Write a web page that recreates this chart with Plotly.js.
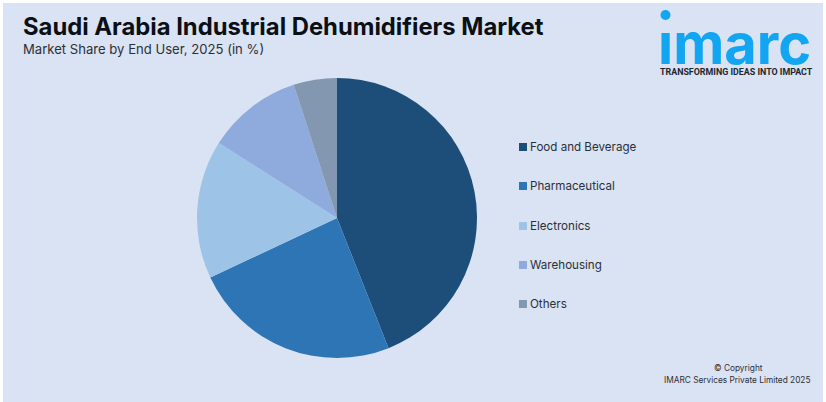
<!DOCTYPE html>
<html><head><meta charset="utf-8">
<script src="https://cdn.plot.ly/plotly-3.0.1.min.js"></script>
<style>html,body{margin:0;padding:0;background:#fff}#c{width:826px;height:402px}</style>
</head><body><div id="c"></div>
<script>
const categories=["Food and Beverage","Pharmaceutical","Electronics","Warehousing","Others"];
const shares=[44,24,16,11,5];
const colors=["#1d4e79","#2e75b6","#9dc3e6","#8faadc","#8497b0"];
const W=826,H=402;
const px=x=>x/W, py=y=>1-y/H;
const legendY=[147,186,226,265,304];
const bodyFont="Inter, 'Noto Sans', sans-serif";
const annotations=[
 {x:px(22),y:py(27),text:"<b>Saudi Arabia Industrial Dehumidifiers Market</b>",font:{size:23.8,color:"#0b0f16",family:bodyFont}},
 {x:px(22),y:py(49),text:"Market Share by End User, 2025 (in %)",font:{size:13.1,color:"#2a3038",family:bodyFont}},
 {x:px(657),y:py(44),text:"<b>ımarc</b>",font:{size:56,color:"#12a5f2",family:"Inter, sans-serif"}},
 {x:px(659),y:py(72),text:"<b>TRANSFORMING IDEAS INTO IMPACT</b>",font:{size:8.9,color:"#20262e",family:"Roboto, sans-serif"}},
 {x:px(738),y:py(368),text:"© Copyright",xanchor:"center",font:{size:8.3,color:"#2a3038",family:bodyFont}},
 {x:px(811),y:py(380),text:"IMARC Services Private Limited 2025",xanchor:"right",font:{size:8.3,color:"#2a3038",family:bodyFont}}
].map(a=>Object.assign({xref:"paper",yref:"paper",xanchor:"left",yanchor:"middle",showarrow:false,borderpad:0},a));
categories.forEach((c,i)=>annotations.push({xref:"paper",yref:"paper",x:px(527.5),y:py(legendY[i]-0.5),xanchor:"left",yanchor:"middle",showarrow:false,text:c,font:{size:11.6,color:"#2a3038",family:bodyFont}}));
const shapes=[
 {type:"rect",xref:"paper",yref:"paper",x0:px(3),x1:px(823),y0:0,y1:py(3),fillcolor:"#dae3f3",line:{width:0},layer:"below"},
 {type:"circle",xref:"paper",yref:"paper",x0:px(660.5),x1:px(670.5),y0:py(20),y1:py(10),fillcolor:"#12a5f2",line:{width:0}}
];
categories.forEach((c,i)=>shapes.push({type:"rect",xref:"paper",yref:"paper",x0:px(519),x1:px(527),y0:py(legendY[i]+4),y1:py(legendY[i]-4),fillcolor:colors[i],line:{width:0}}));
Plotly.newPlot("c",[{type:"pie",labels:categories,values:shares,sort:false,direction:"clockwise",rotation:0,
 marker:{colors:colors,line:{width:0}},textinfo:"none",hoverinfo:"label+percent",
 domain:{x:[px(197),px(477)],y:[py(358),py(78)]}}],
 {width:W,height:H,margin:{l:0,r:0,t:0,b:0,pad:0},paper_bgcolor:"#ffffff",plot_bgcolor:"rgba(0,0,0,0)",showlegend:false,annotations,shapes},
 {displayModeBar:false,staticPlot:true});
</script></body></html>
